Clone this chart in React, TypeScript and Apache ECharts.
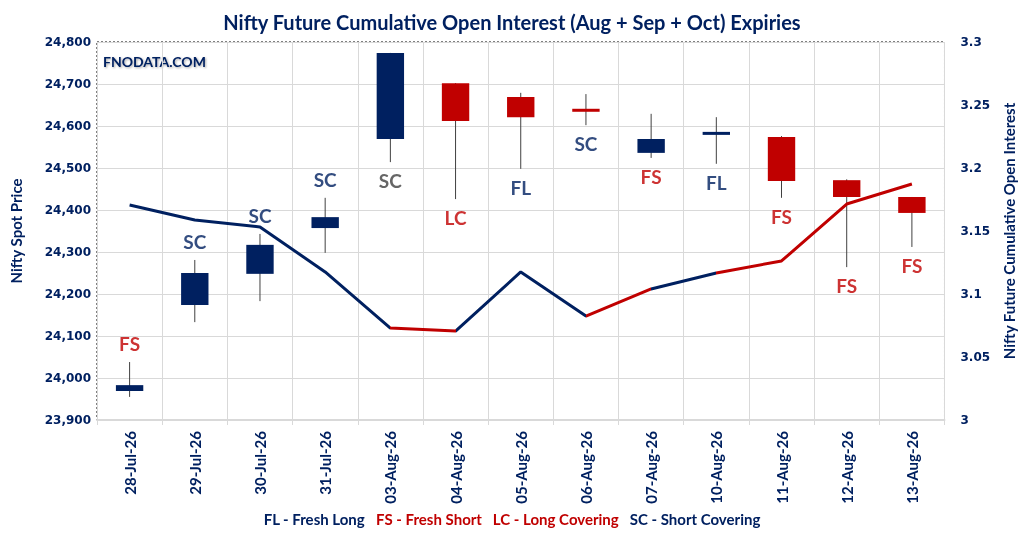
import React, { useEffect, useRef } from "react";
import * as echarts from "echarts";

const categories = [
  "28-Jul-26", "29-Jul-26", "30-Jul-26", "31-Jul-26", "03-Aug-26", "04-Aug-26", "05-Aug-26",
  "06-Aug-26", "07-Aug-26", "10-Aug-26", "11-Aug-26", "12-Aug-26", "13-Aug-26",
];
const openPrices = [23969, 24174, 24248, 24357, 24569, 24702, 24669, 24641, 24536, 24579, 24574, 24471, 24431];
const closePrices = [23983, 24250, 24317, 24383, 24774, 24612, 24621, 24634, 24569, 24586, 24469, 24431, 24393];
const lowPrices = [23955, 24133, 24183, 24298, 24514, 24426, 24498, 24602, 24524, 24510, 24429, 24264, 24312];
const highPrices = [24038, 24281, 24343, 24429, 24774, 24702, 24679, 24676, 24629, 24621, 24576, 24473, 24431];
const oiValues = [3.1706, 3.1587, 3.1532, 3.1175, 3.073, 3.0706, 3.1175, 3.0825, 3.104, 3.1167, 3.1262, 3.1714, 3.1873];
const signals = ["FS", "SC", "SC", "SC", "SC", "LC", "FL", "SC", "FS", "FL", "FS", "FS", "FS"];
const signalSide = ["top", "top", "top", "top", "bottom", "bottom", "bottom", "bottom", "bottom", "bottom", "bottom", "bottom", "bottom"];
const leftTicks = { min: 23900, max: 24800, interval: 100 };
const rightTicks = { min: 3, max: 3.3, interval: 0.05 };

const NAVY = "#002060";
const RED = "#C00000";
const FONT = "Lato";
const NUMFONT = "DejaVu Sans";

export default function App() {
  const ref = useRef<HTMLDivElement>(null);
  useEffect(() => {
    if (!ref.current) return;
    const chart = echarts.init(ref.current, null, { renderer: "svg" });
    const candleData = categories.map((_, i) => [i, openPrices[i], closePrices[i], lowPrices[i], highPrices[i]]);
    const labelData = signals.map((s, i) => {
      const side = signalSide[i];
      let color = s === "FS" || s === "LC" ? RED : NAVY;
      if (i === 4) color = "#404040";
      return {
        value: [i, side === "top" ? highPrices[i] : lowPrices[i]],
        label: { position: side, color },
      };
    });
    const option: any = {
      animation: false,
      textStyle: { fontFamily: FONT },
      title: {
        text: "Nifty Future Cumulative Open Interest (Aug + Sep + Oct) Expiries",
        left: "center",
        top: 7,
        textStyle: { color: NAVY, fontSize: 20, fontWeight: "bold", fontFamily: FONT },
      },
      grid: {
        left: 92, right: 77, top: 42, bottom: 116,
        show: true, borderColor: "#000", borderWidth: 1, borderType: [2, 2],
      },
      xAxis: {
        type: "category",
        data: categories,
        boundaryGap: true,
        axisLine: { lineStyle: { color: "#d9d9d9", width: 2 } },
        axisTick: { show: true, length: 5, lineStyle: { color: "#d9d9d9" } },
        splitLine: { show: true, lineStyle: { color: "#d9d9d9" } },
        axisLabel: { rotate: 90, color: NAVY, fontWeight: "bold", fontSize: 15, fontFamily: FONT, margin: 11 },
      },
      yAxis: [
        {
          type: "value",
          ...leftTicks,
          name: "Nifty Spot Price",
          nameLocation: "middle",
          nameRotate: 90,
          nameGap: 74,
          nameTextStyle: { color: NAVY, fontWeight: "bold", fontSize: 15, fontFamily: FONT },
          axisLine: { show: false },
          axisTick: { show: false },
          splitLine: { show: true, lineStyle: { color: "#d9d9d9" } },
          axisLabel: {
            color: NAVY, fontWeight: "bold", fontSize: 12, fontFamily: NUMFONT, margin: 6,
            formatter: (v: number) => v.toLocaleString("en-US"),
          },
        },
        {
          type: "value",
          ...rightTicks,
          name: "Nifty Future Cumulative Open Interest",
          nameLocation: "middle",
          nameRotate: 90,
          nameGap: 54,
          nameTextStyle: { color: NAVY, fontWeight: "bold", fontSize: 15, fontFamily: FONT },
          axisLine: { show: false },
          axisTick: { show: false },
          splitLine: { show: false },
          axisLabel: { color: NAVY, fontWeight: "bold", fontSize: 12, fontFamily: NUMFONT, margin: 16 },
        },
      ],
      visualMap: {
        show: false,
        type: "piecewise",
        seriesIndex: 1,
        dimension: 0,
        pieces: [
          { lte: 4, color: NAVY },
          { gt: 4, lte: 5, color: RED },
          { gt: 5, lte: 7, color: NAVY },
          { gt: 7, lte: 8, color: RED },
          { gt: 8, lte: 9, color: NAVY },
          { gt: 9, color: RED },
        ],
      },
      graphic: [
        {
          type: "text",
          left: 103,
          top: 54,
          style: {
            text: "FNODATA.COM",
            fill: NAVY,
            font: `bold 14px ${FONT}`,
            textShadowColor: "rgba(0,0,0,0.35)",
            textShadowBlur: 2,
            textShadowOffsetX: 1,
            textShadowOffsetY: 1,
          },
        },
        {
          type: "text",
          left: "center",
          top: 511,
          style: {
            text: "{n|FL - Fresh Long}   {r|FS - Fresh Short}   {r|LC - Long Covering}   {n|SC - Short Covering}",
            font: `bold 15px ${FONT}`,
            rich: {
              n: { fill: NAVY, font: `bold 15px ${FONT}` },
              r: { fill: RED, font: `bold 15px ${FONT}` },
            },
          },
        },
      ],
      series: [
        {
          type: "custom",
          yAxisIndex: 0,
          z: 2,
          data: candleData,
          encode: { x: 0, y: [1, 2, 3, 4] },
          renderItem: (params: any, api: any) => {
            const x = api.value(0);
            const o = api.value(1);
            const c = api.value(2);
            const lo = api.value(3);
            const hi = api.value(4);
            const pO = api.coord([x, o]);
            const pC = api.coord([x, c]);
            const pL = api.coord([x, lo]);
            const pH = api.coord([x, hi]);
            const w = api.size([1, 0])[0] * 0.42;
            const top = Math.min(pO[1], pC[1]);
            const h = Math.max(Math.abs(pO[1] - pC[1]), 3);
            return {
              type: "group",
              children: [
                {
                  type: "line",
                  shape: { x1: pH[0], y1: pH[1], x2: pL[0], y2: pL[1] },
                  style: { stroke: "#404040", lineWidth: 1 },
                },
                {
                  type: "rect",
                  shape: { x: pO[0] - w / 2, y: top, width: w, height: h },
                  style: { fill: c >= o ? NAVY : RED },
                },
              ],
            };
          },
        },
        {
          type: "line",
          yAxisIndex: 1,
          z: 4,
          data: oiValues,
          symbol: "none",
          lineStyle: { width: 3 },
        },
        {
          type: "scatter",
          yAxisIndex: 0,
          z: 5,
          symbolSize: 0,
          data: labelData,
          label: {
            show: true,
            formatter: (p: any) => signals[p.dataIndex],
            fontSize: 19,
            fontWeight: "bold",
            fontFamily: FONT,
            distance: 9,
          },
        },
      ],
    };
    chart.setOption(option);
    return () => chart.dispose();
  }, []);
  return <div ref={ref} style={{ position: "fixed", left: 0, top: 0, width: 1024, height: 536 }} />;
}
